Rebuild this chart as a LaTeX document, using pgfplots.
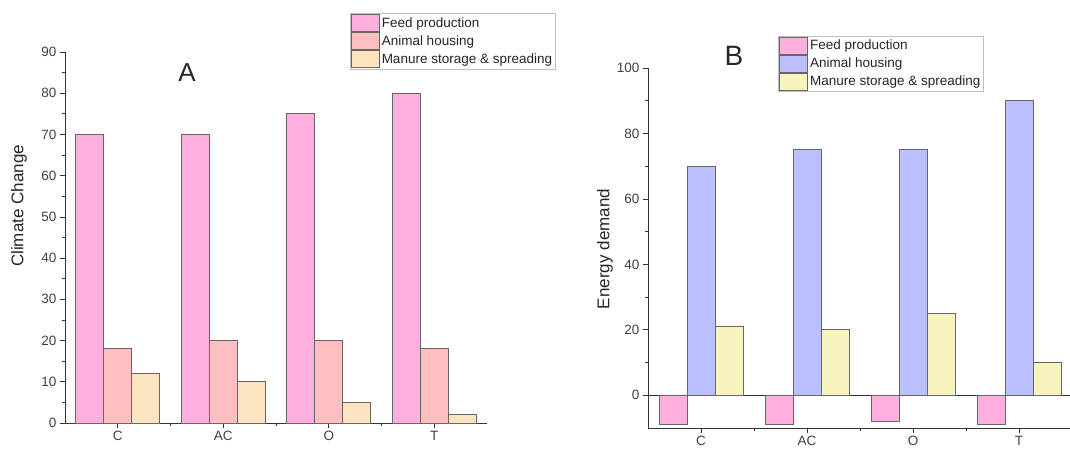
\documentclass[border=0pt]{standalone}
\usepackage{fontspec}
\setmainfont{Liberation Sans}
\usepackage{pgfplots}
\pgfplotsset{compat=1.18}
\definecolor{feed}{RGB}{255,175,222}
\definecolor{animalA}{RGB}{255,190,192}
\definecolor{manureA}{RGB}{252,228,190}
\definecolor{animalB}{RGB}{186,192,255}
\definecolor{manureB}{RGB}{248,244,190}
\pgfplotsset{
  myaxis/.style={
    scale only axis, axis lines*=left, tick align=outside,
    ybar=0pt, bar width=28pt,
    xmin=-0.5, xmax=3.5, xtick={0,1,2,3}, xticklabels={C,AC,O,T},
    minor xtick={0.5,1.5,2.5},
    major tick length=5pt, minor tick length=3pt,
    tick style={black!80, line width=0.7pt},
    axis line style={line width=0.9pt, black!80},
    ticklabel style={font=\fontsize{13.5}{15}\selectfont, text=black!75},
    /pgf/number format/assume math mode=true,
    every axis plot/.append style={draw=black!60, line width=0.7pt},
    legend style={draw=black!25, font=\fontsize{13.5}{15}\selectfont, inner sep=1pt, row sep=0pt, cells={anchor=west}, anchor=north west, text=black!85},
    legend image code/.code={\draw[#1,bar shift=0pt] (0pt,-8.6pt) rectangle (28pt,8.6pt);},
  }
}
\begin{document}
\begin{tikzpicture}[x=1pt,y=1pt]
\path[use as bounding box, clip] (0,0) rectangle (1070,450);
% Panel A
\begin{axis}[myaxis,
  at={(65pt,27pt)}, anchor=south west, width=422pt, height=371pt,
  ymin=0, ymax=90, ytick={0,10,...,90}, minor y tick num=1,
  legend style={at={(axis description cs:0.675,1.105)}},
]
\addplot[fill=feed] coordinates {(0,70) (1,70) (2,75) (3,80)};
\addplot[fill=animalA] coordinates {(0,18) (1,20) (2,20) (3,18)};
\addplot[fill=manureA] coordinates {(0,12) (1,10) (2,5) (3,2)};
\legend{Feed production, Animal housing, Manure storage \& spreading}
\end{axis}
% Panel B
\begin{axis}[myaxis,
  at={(648pt,22pt)}, anchor=south west, width=424pt, height=360pt,
  ymin=-10, ymax=100, ytick={0,20,...,100}, minor ytick={10,30,50,70,90},
  extra y ticks={0}, extra y tick labels={}, extra y tick style={grid=major, major grid style={black!80, line width=0.8pt}},
  legend style={at={(axis description cs:0.307,1.09)}},
]
\addplot[fill=feed] coordinates {(0,-9) (1,-9) (2,-8) (3,-9)};
\addplot[fill=animalB] coordinates {(0,70) (1,75) (2,75) (3,90)};
\addplot[fill=manureB] coordinates {(0,21) (1,20) (2,25) (3,10)};
\legend{Feed production, Animal housing, Manure storage \& spreading}
\end{axis}
\node[font=\fontsize{26}{28}\selectfont, text=black!85] at (187,377) {A};
\node[font=\fontsize{28}{30}\selectfont, text=black!85] at (734,394) {B};
\node[rotate=90, font=\fontsize{17}{19}\selectfont, text=black!85] at (19,244) {Climate Change};
\node[rotate=90, font=\fontsize{17}{19}\selectfont, text=black!85] at (605,201) {Energy demand};
\end{tikzpicture}
\end{document}
